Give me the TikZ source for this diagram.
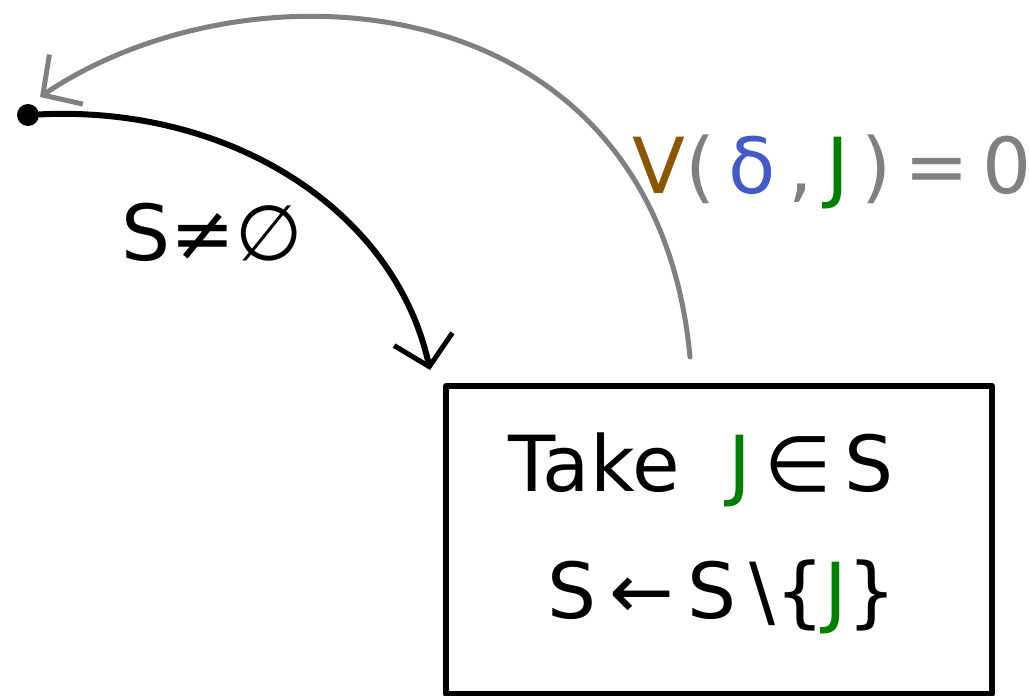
\documentclass[tikz,border=0pt]{standalone}
\usepackage{fontspec}
\setmainfont{DejaVu Sans}
\usetikzlibrary{arrows.meta}
\definecolor{penbrown}{RGB}{140,85,0}
\definecolor{penblue}{RGB}{65,90,200}
\definecolor{pengreen}{RGB}{0,128,0}
\definecolor{pengray}{RGB}{128,128,128}
\tikzset{
  pen/.style={line width=0.12cm,line cap=round,line join=round},
  barb/.style={-{Straight Barb[length=16pt,width=34pt,line width=0.1cm]}},
}
\begin{document}
\begin{tikzpicture}[x=0.02cm,y=-0.02cm,font=\fontsize{44}{52}\selectfont]
        \useasboundingbox (0,0) rectangle (1029,696);
        %% Start point
        \node[circle,fill,inner sep=0pt,minimum size=0.44cm] (start) at (28,115) {};
        %% Box
        \node[draw,pen,minimum width=10.92cm,minimum height=6.16cm] (box) at (719,540) {};
        \node (take) at (701,470) {Take\ \ \textcolor{pengreen}{J}\,∈\,S};
        \node (remove) at (722,597) {S\,←\,S\,\textbackslash\{\textcolor{pengreen}{J}\}};
        \coordinate (enter) at (430,370);
        \coordinate (loop) at (690,357);
        \coordinate (back) at (40,97);
        %% Forward arrow
        \draw[pen,barb] (start) .. controls (230,105) and (395,210) .. (enter);
        \node (cond) at (212,232) {S≠∅};
        %% Return arrow
        \draw[pen,pengray,line width=0.1cm,barb] (loop) .. controls (655,-20) and (250,-45) .. (back);
        \node[text=pengray] (update) at (832,172) {\textcolor{penbrown}{V}(\,\textcolor{penblue}{δ}\,,\,\textcolor{pengreen}{J}\,)\,=\,0};
    \end{tikzpicture}
\end{document}
